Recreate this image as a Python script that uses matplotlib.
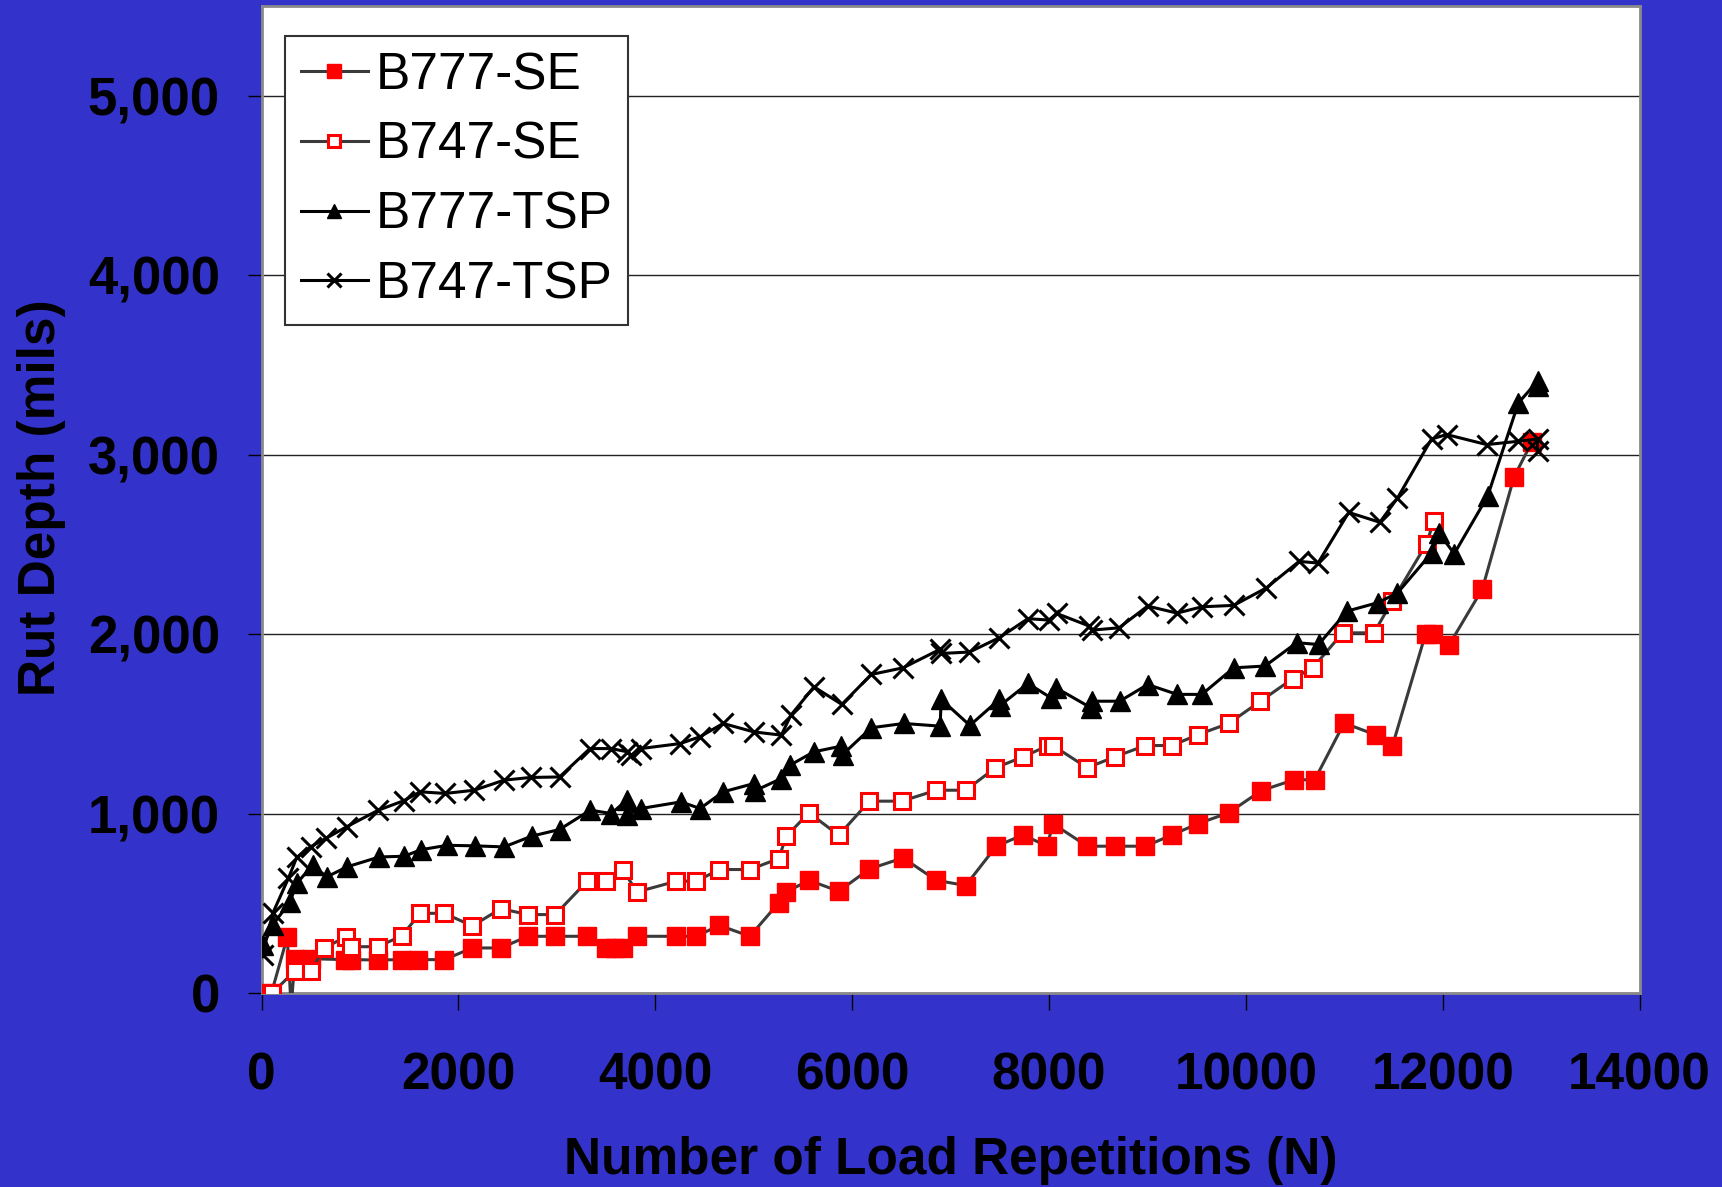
import matplotlib
matplotlib.use("Agg")
import matplotlib.pyplot as plt
from matplotlib.ticker import FuncFormatter

# --- dati (N ripetizioni, profondita' ormaia in mils)
b777_se_n = [100, 261, 300, 339, 501, 847, 908, 1179, 1424, 1593, 1857, 2140, 2432, 2704,
             2984, 3307, 3502, 3591, 3669, 3813, 4214, 4416, 4650, 4961, 5253, 5331, 5561,
             5864, 6175, 6517, 6854, 7153, 7464, 7736, 7981, 8039, 8388, 8668, 8979, 9250,
             9515, 9825, 10157, 10489, 10699, 10998, 11317, 11487, 11826, 11904, 12066,
             12402, 12724, 12904]
b777_se_rut = [0, 312, -80, 191, 191, 186, 186, 184, 186, 186, 186, 251, 251, 316,
               316, 316, 251, 251, 251, 316, 316, 316, 377, 316, 502, 563, 628,
               567, 691, 753, 628, 599, 818, 881, 818, 944, 818, 818, 818, 881,
               944, 1004, 1128, 1188, 1188, 1504, 1439, 1374, 2002, 2002, 1941,
               2251, 2875, 3069]

b747_se_n = [109, 339, 501, 637, 854, 908, 1179, 1424, 1610, 1857, 2140, 2432, 2704, 2984,
             3307, 3502, 3669, 3813, 4214, 4416, 4650, 4961, 5253, 5331, 5561, 5864, 6175,
             6505, 6854, 7153, 7456, 7736, 7992, 8039, 8388, 8668, 8979, 9250, 9515, 9825,
             10148, 10474, 10680, 10983, 11301, 11487, 11836, 11907]
b747_se_rut = [0, 124, 124, 249, 314, 258, 258, 318, 444, 444, 374, 470, 437, 437,
               623, 623, 688, 563, 623, 623, 688, 688, 749, 874, 1004, 879, 1069,
               1069, 1130, 1130, 1255, 1316, 1379, 1379, 1255, 1316, 1379, 1379, 1440, 1502,
               1626, 1751, 1812, 2007, 2007, 2184, 2504, 2628]

b777_tsp_n = [15, 113, 289, 357, 518, 662, 868, 1195, 1447, 1623, 1887, 2167, 2463, 2743,
              3027, 3339, 3553, 3708, 3708, 3852, 4261, 4455, 4689, 5000, 5008, 5280, 5370,
              5611, 5883, 5903, 6194, 6524, 6893, 6905, 7196, 7495, 7503, 7786, 8019, 8070,
              8427, 8435, 8718, 9002, 9301, 9553, 9876, 10194, 10516, 10738, 11029, 11340,
              11540, 11886, 11961, 12117, 12456, 12768, 12963, 12963]
b777_tsp_rut = [265, 379, 509, 611, 712, 647, 703, 758, 762, 799, 823, 820, 814, 874,
                911, 1019, 1000, 1074, 991, 1028, 1065, 1028, 1121, 1167, 1126, 1195, 1270,
                1344, 1375, 1329, 1478, 1502, 1487, 1636, 1491, 1636, 1602, 1725, 1645, 1701,
                1589, 1626, 1626, 1719, 1664, 1664, 1812, 1822, 1952, 1942, 2128, 2175,
                2229, 2452, 2563, 2448, 2768, 3288, 3409, 3381]

b747_tsp_n = [10, 113, 272, 357, 499, 655, 866, 1187, 1442, 1612, 1866, 2160, 2463, 2732,
              3027, 3335, 3553, 3716, 3755, 3852, 4253, 4455, 4689, 5000, 5280, 5377, 5612,
              5895, 6194, 6517, 6893, 6905, 7192, 7495, 7786, 7999, 8078, 8408, 8435, 8711,
              9002, 9301, 9553, 9876, 10207, 10540, 10733, 11045, 11361, 11540, 11886, 12039,
              12446, 12761, 12963, 12963]
b747_tsp_rut = [212, 444, 639, 756, 815, 862, 927, 1019, 1071, 1121, 1112, 1130, 1186, 1201,
                1204, 1362, 1362, 1344, 1325, 1362, 1390, 1428, 1502, 1455, 1437, 1548, 1706,
                1608, 1775, 1812, 1915, 1892, 1900, 1980, 2086, 2078, 2115, 2045, 2022, 2035,
                2156, 2117, 2152, 2160, 2257, 2405, 2396, 2678, 2623, 2758, 3087, 3112,
                3056, 3074, 3087, 3019]

x_ticks = [0, 2000, 4000, 6000, 8000, 10000, 12000, 14000]
y_ticks = [0, 1000, 2000, 3000, 4000, 5000]

BLUE = "#3333cc"
plt.rcParams["font.family"] = ["Liberation Sans", "DejaVu Sans"]

fig = plt.figure(figsize=(17.22, 11.87), dpi=100, facecolor=BLUE)
ax = fig.add_axes([261.6 / 1722, 1 - 993 / 1187, 1378 / 1722, 987 / 1187])
ax.set_facecolor("white")

ax.plot(b777_se_n, b777_se_rut, "-s", color="#3a3a3a", lw=2.2, ms=12.5,
        mfc="red", mec="red", label="B777-SE", zorder=3)
ax.plot(b747_se_n, b747_se_rut, "-s", color="#3a3a3a", lw=2.2, ms=12,
        mfc="white", mec="red", mew=2.2, label="B747-SE", zorder=4)
ax.plot(b777_tsp_n, b777_tsp_rut, "-^", color="black", lw=2.2, ms=14,
        mfc="black", mec="black", label="B777-TSP", zorder=5)
ax.plot(b747_tsp_n, b747_tsp_rut, "-x", color="black", lw=2.2, ms=14,
        mew=2.2, label="B747-TSP", zorder=6)

ax.set_xlim(0, 14000); ax.set_ylim(0, 5500)
ax.set_xticks(x_ticks); ax.set_yticks(y_ticks)
ax.yaxis.set_major_formatter(FuncFormatter(lambda v, p: f"{int(v):,}"))
ax.grid(axis="y", color="#222222", lw=1.0)
ax.set_axisbelow(True)
for s in ax.spines.values():
    s.set_color("#8a8a8a"); s.set_linewidth(2)
ax.tick_params(axis="x", direction="out", length=12, width=1, pad=30,
               labelsize=37)
ax.tick_params(axis="y", direction="out", length=10, width=1, pad=20,
               labelsize=38)
for lab in ax.get_xticklabels() + ax.get_yticklabels():
    lab.set_fontweight("bold")

ax.set_xlabel("Number of Load Repetitions (N)", fontsize=37, fontweight="bold", va="center")
ax.xaxis.set_label_coords(0.5, -0.17)
ax.set_ylabel("Rut Depth (mils)", fontsize=37, fontweight="bold", va="center")
ax.yaxis.set_label_coords(-0.16, 0.502)

leg = ax.legend(loc="upper left", bbox_to_anchor=(0.0173, 0.9696), fontsize=37,
                numpoints=1, fancybox=False, framealpha=1, edgecolor="#333333",
                handlelength=1.3, handletextpad=0.15, borderpad=0.3, labelspacing=0.4,
                borderaxespad=0, markerscale=0.75)
leg.get_frame().set_linewidth(1.5)

fig.savefig("out.png", dpi=100, facecolor=BLUE)
